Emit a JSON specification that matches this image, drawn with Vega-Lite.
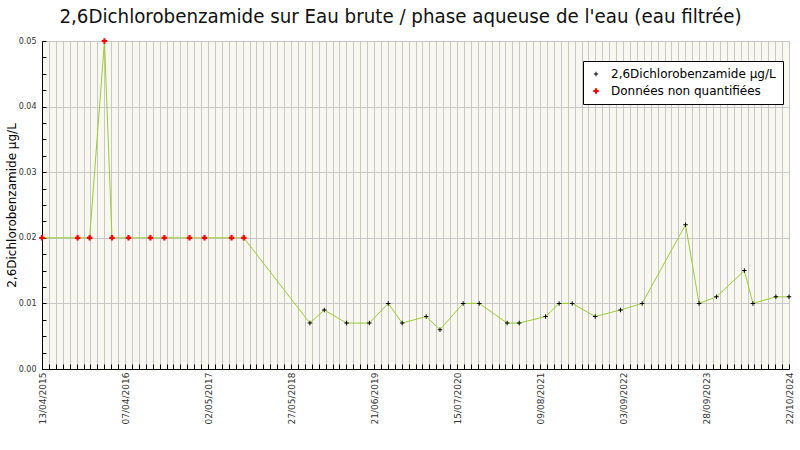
{
  "$schema": "https://vega.github.io/schema/vega-lite/v6.json",
  "width": 747,
  "height": 328,
  "autosize": {"type": "none"},
  "padding": {"left": 42, "top": 41, "right": 11, "bottom": 81},
  "background": "white",
  "title": {
    "text": "2,6Dichlorobenzamide sur Eau brute / phase aqueuse de l'eau (eau filtrée)",
    "font": "DejaVu Sans Condensed",
    "fontSize": 20.3,
    "fontWeight": "normal",
    "color": "#111111",
    "anchor": "middle",
    "dx": -15,
    "offset": 10
  },
  "config": {
    "view": {"fill": "#f8f8f0", "stroke": "#c8c8c8"},
    "axis": {
      "domainColor": "black",
      "tickColor": "black",
      "gridColor": "#c8c8c8",
      "labelFont": "DejaVu Sans",
      "labelColor": "#333333",
      "titleFont": "DejaVu Sans"
    },
    "legend": {
      "labelFont": "DejaVu Sans",
      "labelFontSize": 12,
      "labelColor": "black",
      "labelLimit": 400
    }
  },
  "data": {
    "values": [
      {"date": "2015-04-13", "value": 0.02, "type": "Données non quantifiées"},
      {"date": "2015-09-26", "value": 0.02, "type": "Données non quantifiées"},
      {"date": "2015-11-21", "value": 0.02, "type": "Données non quantifiées"},
      {"date": "2016-01-29", "value": 0.05, "type": "Données non quantifiées"},
      {"date": "2016-03-04", "value": 0.02, "type": "Données non quantifiées"},
      {"date": "2016-05-20", "value": 0.02, "type": "Données non quantifiées"},
      {"date": "2016-08-30", "value": 0.02, "type": "Données non quantifiées"},
      {"date": "2016-11-03", "value": 0.02, "type": "Données non quantifiées"},
      {"date": "2017-02-28", "value": 0.02, "type": "Données non quantifiées"},
      {"date": "2017-05-09", "value": 0.02, "type": "Données non quantifiées"},
      {"date": "2017-09-12", "value": 0.02, "type": "Données non quantifiées"},
      {"date": "2017-11-08", "value": 0.02, "type": "Données non quantifiées"},
      {"date": "2018-09-12", "value": 0.007, "type": "2,6Dichlorobenzamide µg/L"},
      {"date": "2018-11-18", "value": 0.009, "type": "2,6Dichlorobenzamide µg/L"},
      {"date": "2019-03-02", "value": 0.007, "type": "2,6Dichlorobenzamide µg/L"},
      {"date": "2019-06-16", "value": 0.007, "type": "2,6Dichlorobenzamide µg/L"},
      {"date": "2019-09-12", "value": 0.010, "type": "2,6Dichlorobenzamide µg/L"},
      {"date": "2019-11-16", "value": 0.007, "type": "2,6Dichlorobenzamide µg/L"},
      {"date": "2020-03-07", "value": 0.008, "type": "2,6Dichlorobenzamide µg/L"},
      {"date": "2020-05-10", "value": 0.006, "type": "2,6Dichlorobenzamide µg/L"},
      {"date": "2020-08-26", "value": 0.010, "type": "2,6Dichlorobenzamide µg/L"},
      {"date": "2020-11-09", "value": 0.010, "type": "2,6Dichlorobenzamide µg/L"},
      {"date": "2021-03-19", "value": 0.007, "type": "2,6Dichlorobenzamide µg/L"},
      {"date": "2021-05-14", "value": 0.007, "type": "2,6Dichlorobenzamide µg/L"},
      {"date": "2021-09-14", "value": 0.008, "type": "2,6Dichlorobenzamide µg/L"},
      {"date": "2021-11-16", "value": 0.010, "type": "2,6Dichlorobenzamide µg/L"},
      {"date": "2022-01-16", "value": 0.010, "type": "2,6Dichlorobenzamide µg/L"},
      {"date": "2022-05-03", "value": 0.008, "type": "2,6Dichlorobenzamide µg/L"},
      {"date": "2022-08-29", "value": 0.009, "type": "2,6Dichlorobenzamide µg/L"},
      {"date": "2022-12-08", "value": 0.010, "type": "2,6Dichlorobenzamide µg/L"},
      {"date": "2023-06-28", "value": 0.022, "type": "2,6Dichlorobenzamide µg/L"},
      {"date": "2023-08-30", "value": 0.010, "type": "2,6Dichlorobenzamide µg/L"},
      {"date": "2023-11-19", "value": 0.011, "type": "2,6Dichlorobenzamide µg/L"},
      {"date": "2024-03-28", "value": 0.015, "type": "2,6Dichlorobenzamide µg/L"},
      {"date": "2024-05-07", "value": 0.010, "type": "2,6Dichlorobenzamide µg/L"},
      {"date": "2024-08-22", "value": 0.011, "type": "2,6Dichlorobenzamide µg/L"},
      {"date": "2024-10-22", "value": 0.011, "type": "2,6Dichlorobenzamide µg/L"}
    ]
  },
  "encoding": {
    "x": {
      "field": "date",
      "type": "temporal",
      "scale": {"domain": [1428883200000, 1729555200000], "nice": false},
      "axis": {
        "title": null,
        "values": [1428883200000,1431667200000,1434451200000,1437235200000,1440019200000,1442803200000,1445587200000,1448371200000,1451155200000,1453939200000,1456723200000,1459507200000,1462291200000,1465075200000,1467859200000,1470643200000,1473427200000,1476211200000,1478995200000,1481779200000,1484563200000,1487347200000,1490131200000,1492915200000,1495699200000,1498483200000,1501267200000,1504051200000,1506835200000,1509619200000,1512403200000,1515187200000,1517971200000,1520755200000,1523539200000,1526323200000,1529107200000,1531891200000,1534675200000,1537459200000,1540243200000,1543027200000,1545811200000,1548595200000,1551379200000,1554163200000,1556947200000,1559731200000,1562515200000,1565299200000,1568083200000,1570867200000,1573651200000,1576435200000,1579219200000,1582003200000,1584787200000,1587571200000,1590355200000,1593139200000,1595923200000,1598707200000,1601491200000,1604275200000,1607059200000,1609843200000,1612627200000,1615411200000,1618195200000,1620979200000,1623763200000,1626547200000,1629331200000,1632115200000,1634899200000,1637683200000,1640467200000,1643251200000,1646035200000,1648819200000,1651603200000,1654387200000,1657171200000,1659955200000,1662739200000,1665523200000,1668307200000,1671091200000,1673875200000,1676659200000,1679443200000,1682227200000,1685011200000,1687795200000,1690579200000,1693363200000,1696147200000,1698931200000,1701715200000,1704499200000,1707283200000,1710067200000,1712851200000,1715635200000,1718419200000,1721203200000,1723987200000,1726771200000,1729555200000],
        "labelExpr": "round((datum.value - 1428883200000) / 2784000000) % 12 == 0 ? ['13/04/2015','07/04/2016','02/05/2017','27/05/2018','21/06/2019','15/07/2020','09/08/2021','03/09/2022','28/09/2023','22/10/2024'][round((datum.value - 1428883200000) / 2784000000) / 12] : ''",
        "labelAngle": -90,
        "labelFontSize": 9,
        "labelOverlap": false,
        "labelBound": false,
        "labelFlush": false,
        "labelPadding": 8,
        "tickSize": -5,
        "grid": true,
        "gridWidth": 1
      }
    },
    "y": {
      "field": "value",
      "type": "quantitative",
      "scale": {"domain": [0, 0.05], "nice": false},
      "axis": {
        "title": "2,6Dichlorobenzamide µg/L",
        "titleFontSize": 12,
        "titleFontWeight": "normal",
        "titleColor": "black",
        "titlePadding": 0,
        "values": [0, 0.0025, 0.005, 0.0075, 0.01, 0.0125, 0.015, 0.0175, 0.02, 0.0225, 0.025, 0.0275, 0.03, 0.0325, 0.035, 0.0375, 0.04, 0.0425, 0.045, 0.0475, 0.05],
        "labelExpr": "abs(datum.value * 100 - round(datum.value * 100)) < 0.001 ? format(datum.value, '.2f') : ''",
        "labelFontSize": 8,
        "labelOverlap": false,
        "labelPadding": 10,
        "tickSize": -4,
        "grid": true,
        "gridColor": {"condition": {"test": "abs(datum.value * 100 - round(datum.value * 100)) < 0.001", "value": "#c8c8c8"}, "value": "transparent"}
      }
    }
  },
  "layer": [
    {
      "mark": {"type": "line", "color": "#99cc33", "strokeWidth": 1},
      "encoding": {}
    },
    {
      "mark": {"type": "point", "filled": true, "opacity": 1, "strokeWidth": 0},
      "encoding": {
        "color": {
          "field": "type",
          "type": "nominal",
          "scale": {"domain": ["2,6Dichlorobenzamide µg/L", "Données non quantifiées"], "range": ["black", "red"]},
          "legend": {
            "title": null,
            "orient": "none",
            "legendX": 541,
            "legendY": 20,
            "strokeColor": "black",
            "fillColor": "white",
            "padding": 7,
            "symbolSize": 40,
            "rowPadding": 5,
            "labelOffset": 9
          }
        },
        "shape": {
          "field": "type",
          "type": "nominal",
          "scale": {"domain": ["2,6Dichlorobenzamide µg/L", "Données non quantifiées"], "range": ["M-1,-0.22H-0.22V-1H0.22V-0.22H1V0.22H0.22V1H-0.22V0.22H-1Z", "cross"]}
        },
        "size": {
          "field": "type",
          "type": "nominal",
          "scale": {"domain": ["2,6Dichlorobenzamide µg/L", "Données non quantifiées"], "range": [20, 30]},
          "legend": null
        }
      }
    }
  ]
}
